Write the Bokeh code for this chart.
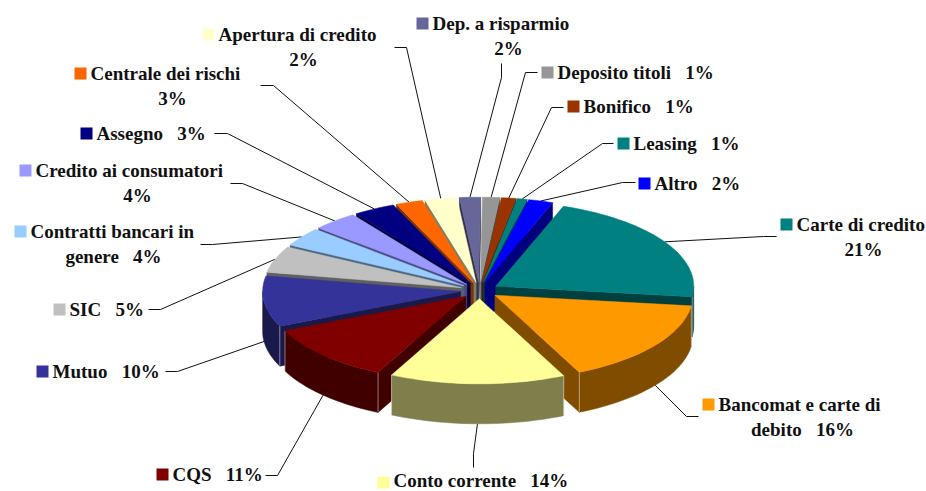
import math
from bokeh.plotting import figure
from bokeh.embed import file_html
from bokeh.resources import INLINE
from bokeh.core.properties import value as bvalue

categories = ["Carte di credito", "Bancomat e carte di debito", "Conto corrente", "CQS", "Mutuo", "SIC",
              "Contratti bancari in genere", "Credito ai consumatori", "Assegno", "Centrale dei rischi",
              "Apertura di credito", "Dep. a risparmio", "Deposito titoli", "Bonifico", "Leasing", "Altro"]
# shares; the printed, rounded percentages are in label_lines
values = [21.4, 16.0, 14.3, 11.0, 9.6, 5.0, 3.6, 3.7, 3.4, 2.2, 2.6, 1.7, 1.4, 1.2, 0.8, 2.0]
colors = ["#008080", "#FF9900", "#FFFF99", "#800000", "#333399", "#C0C0C0", "#99CCFF", "#9999FF",
          "#000080", "#FF6600", "#FFFFCC", "#666699", "#969696", "#993300", "#008080", "#0000FF"]

# label text, by line
NB = "\u00a0\u00a0\u00a0"
label_lines = [["Carte di credito", "21%"], ["Bancomat e carte di", "debito" + NB + "16%"], ["Conto corrente" + NB + "14%"],
               ["CQS" + NB + "11%"], ["Mutuo" + NB + "10%"], ["SIC" + NB + "5%"], ["Contratti bancari in", "genere" + NB + "4%"],
               ["Credito ai consumatori", "4%"], ["Assegno" + NB + "3%"], ["Centrale dei rischi", "3%"],
               ["Apertura di credito", "2%"], ["Dep. a risparmio", "2%"], ["Deposito titoli" + NB + "1%"],
               ["Bonifico" + NB + "1%"], ["Leasing" + NB + "1%"], ["Altro" + NB + "2%"]]

# layout: legend key left/top, centre x of second line
key_x = [780, 702, 377, 156, 36, 53, 14, 19, 80, 74, 202, 416, 541, 567, 617, 638]
key_y = [218, 398, 476, 468, 365, 303, 225, 164, 127, 67, 28, 17, 66, 100, 137, 177]
second_cx = [863, 802, 0, 0, 0, 0, 113, 137, 0, 172, 303, 508, 0, 0, 0, 0]
# layout: leader line elbow and outer end
elbow = [(763, 236), (686, 416), (473, 453), (277, 475), (177, 371), (160, 309), (212, 244), (242, 183),
         (227, 133), (273, 85), (406, 47), (501, 77), (525, 72), (551, 107), (602, 143), (622, 182)]
outer = [(776, 236), (698, 416), (473, 467), (265, 475), (165, 371), (148, 309), (200, 244), (230, 183),
         (214, 133), (260, 85), (394, 47), (501, 63), (537, 72), (563, 107), (613, 143), (635, 182)]

CX, CY, R, K, EXPL, DEPTH, START = 479, 290, 198, 0.43, 19, 40, 20
FONT = "Liberation Serif"
FS = "19px"
TEXT_Y_MAX = 479.5  # keeps the lowest label inside the window


def darker(c, f=0.5):
    return "#%02x%02x%02x" % tuple(int(int(c[i:i + 2], 16) * f) for i in (1, 3, 5))


def pt(theta, r, mid, down=0):
    t, m = math.radians(theta), math.radians(mid)
    x = CX + EXPL * math.sin(m) + r * math.sin(t)
    y = CY - K * (EXPL * math.cos(m) + r * math.cos(t)) + down
    return x, y


p = figure(width=926, height=491, x_range=(0, 926), y_range=(491, 0), output_backend="svg",
           toolbar_location=None, min_border=0, outline_line_color=None, background_fill_color="white",
           border_fill_color="white", styles={"position": "absolute", "left": "0px", "top": "0px"})
p.axis.visible = False
p.grid.visible = False

total = sum(values)
spans = []
a = START
for v in values:
    spans.append((a, a + v / total * 360))
    a += v / total * 360
mids = [(s + e) / 2 for s, e in spans]

# leader lines (behind the pie)
for i in range(len(values)):
    front = 90 < mids[i] < 270
    rx, ry = pt(mids[i], R, mids[i], DEPTH if front else 0)
    p.line([rx, elbow[i][0], outer[i][0]], [ry, elbow[i][1], outer[i][1]], line_color="#111111", line_width=1)

order = sorted(range(len(values)), key=lambda i: -math.cos(math.radians(mids[i])))
for i in order:
    s, e = spans[i]
    m = mids[i]
    wall = darker(colors[i])
    quads = []
    for th, visible in ((s, math.sin(math.radians(s)) < 0), (e, math.sin(math.radians(e)) > 0)):
        if visible:
            a0 = pt(th, 0, m); a1 = pt(th, R, m)
            quads.append([a0, a1, (a1[0], a1[1] + DEPTH), (a0[0], a0[1] + DEPTH)])
    lo, hi = max(s, 90), min(e, 270)
    if lo < hi:
        n = max(2, int((hi - lo) / 2))
        arc = [pt(lo + (hi - lo) * j / n, R, m) for j in range(n + 1)]
        quads.append(arc + [(x, y + DEPTH) for x, y in reversed(arc)])
    for q in quads:
        p.patch([c[0] for c in q], [c[1] for c in q], fill_color=wall, line_color=wall, line_width=0.5)
    # light vertical edges on the front corners
    for th in (s, e):
        if 90 < th < 270:
            c = pt(th, R, m)
            p.line([c[0], c[0]], [c[1], c[1] + DEPTH], line_color="#ffffff", line_alpha=0.45, line_width=1)
    n = max(2, int((e - s) / 2))
    top = [pt(0, 0, m)] + [pt(s + (e - s) * j / n, R, m) for j in range(n + 1)]
    p.patch([c[0] for c in top], [c[1] for c in top], fill_color=colors[i], line_color=colors[i], line_width=0.5)

# labels
for i, lines in enumerate(label_lines):
    kx, ky = key_x[i], key_y[i]
    p.quad(left=kx, right=kx + 12, top=ky, bottom=ky + 12, fill_color=colors[i], line_color=None)
    p.text(x=[kx + 16], y=[min(ky + 6, TEXT_Y_MAX)], text=[lines[0]], text_font=bvalue(FONT), text_font_size=FS,
           text_font_style="bold", text_align="left", text_baseline="middle", text_color="#111111")
    if len(lines) > 1:
        p.text(x=[second_cx[i]], y=[ky + 31], text=[lines[1]], text_font=bvalue(FONT), text_font_size=FS,
               text_font_style="bold", text_align="center", text_baseline="middle", text_color="#111111")

open("out.html", "w").write(file_html(p, INLINE))
